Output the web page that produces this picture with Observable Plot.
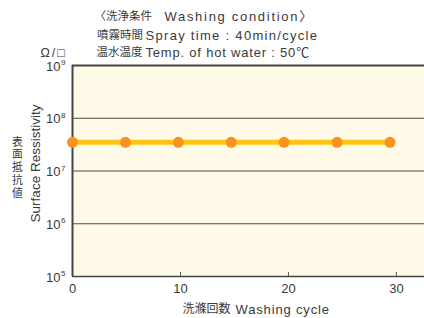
<!DOCTYPE html>
<html>
<head>
<meta charset="utf-8">
<script src="https://cdn.jsdelivr.net/npm/d3@7"></script>
<script src="https://cdn.jsdelivr.net/npm/@observablehq/plot@0.6"></script>
<style>
  html, body { margin: 0; padding: 0; background: #fff; }
  svg { display: block; }
</style>
</head>
<body>
<div id="chart"></div>
<script>
// Data
const cycles = [0, 4.9, 9.8, 14.7, 19.6, 24.5, 29.4];
const resistivity = [3.5e7, 3.5e7, 3.5e7, 3.5e7, 3.5e7, 3.5e7, 3.5e7];
const xTicks = [0, 10, 20, 30];
const yTicks = [1e5, 1e6, 1e7, 1e8, 1e9];
const gridLines = [1e6, 1e7, 1e8];
const titleJa = ["〈洗浄条件", "噴霧時間", "温水温度"];
const titleEn = ["Washing condition〉", "Spray time : 40min/cycle", "Temp. of hot water : 50℃"];
const unitLabel = "Ω/□";
const yLabelEn = "Surface Ressistivity";
const yLabelJa = "表面抵抗値";
const xLabelJa = "洗滌回数";
const xLabelEn = "Washing cycle";

const data = cycles.map((c, i) => ({x: c, y: resistivity[i]}));
const font = "'Liberation Sans', Arial, 'Noto Sans CJK JP', sans-serif";
const jaFont = "'Noto Sans CJK JP', sans-serif";
const textColor = "#3a3a3a";

const titleDy = [-49, -30, -13];
const titleJaDx = [22, 24.5, 24];
const titleEnDx = [92, 73, 73];
const titleSpacing = ["1.7px", "1.3px", "0.8px"];

const titleMarks = [];
for (let i = 0; i < 3; i++) {
  titleMarks.push(Plot.text([titleJa[i]], {frameAnchor: "top-left", dx: titleJaDx[i], dy: titleDy[i], textAnchor: "start", lineAnchor: "middle", fontSize: 11.5, fontFamily: jaFont, fill: textColor}));
  titleMarks.push(Plot.text([titleEn[i]], {frameAnchor: "top-left", dx: titleEnDx[i], dy: titleDy[i], textAnchor: "start", lineAnchor: "middle", fontSize: 13, fill: textColor}));
}

const chart = Plot.plot({
  width: 424,
  height: 318,
  marginLeft: 72,
  marginRight: 0,
  marginTop: 65,
  marginBottom: 42,
  style: {fontFamily: font, background: "#fff", color: textColor},
  x: {domain: [0, 32.6], axis: null},
  y: {type: "log", domain: [1e5, 1e9], axis: null},
  marks: [
    Plot.frame({fill: "#fffbe8", stroke: null}),
    Plot.ruleY(gridLines, {stroke: "#4a4a4a", strokeWidth: 1}),
    Plot.ruleY([1e9], {stroke: "#444", strokeWidth: 2}),
    Plot.ruleY([1e5], {stroke: "#444", strokeWidth: 1.5}),
    Plot.ruleX([0], {stroke: "#444", strokeWidth: 2}),
    Plot.ruleX(xTicks.filter(d => d > 0), {insetTop: 207, stroke: "#555", strokeWidth: 1}),
    Plot.text(xTicks, {x: d => d, frameAnchor: "bottom", dy: 16, text: d => String(d), fontSize: 13, fill: textColor}),
    Plot.text(yTicks, {y: d => d, frameAnchor: "left", dx: -12, dy: 1, textAnchor: "end", text: () => "10", fontSize: 13, fill: textColor}),
    Plot.text(yTicks, {y: d => d, frameAnchor: "left", dx: -11.5, dy: -3, textAnchor: "start", text: d => String(Math.round(Math.log10(d))), fontSize: 8, fill: textColor}),
    Plot.line(data, {x: "x", y: "y", stroke: "#ffc512", strokeWidth: 5}),
    Plot.dot(data, {x: "x", y: "y", r: 5.5, fill: "#f7931e", stroke: null}),
    ...titleMarks,
    Plot.text([unitLabel], {frameAnchor: "top-left", dx: -32, dy: -13, textAnchor: "start", lineAnchor: "middle", fontSize: 12.5, fill: textColor}),
    Plot.text([yLabelEn], {frameAnchor: "left", dx: -37, dy: -7.5, rotate: -90, textAnchor: "middle", fontSize: 13.5, fill: textColor}),
    Plot.text([yLabelJa.split("").join("\n")], {frameAnchor: "left", dx: -55, dy: -4, textAnchor: "middle", fontSize: 10.8, lineHeight: 1.18, fontFamily: jaFont, fill: textColor}),
    Plot.text([xLabelJa], {frameAnchor: "bottom-left", dx: 110, dy: 33, textAnchor: "start", lineAnchor: "middle", fontSize: 12, fontFamily: jaFont, fill: textColor}),
    Plot.text([xLabelEn], {frameAnchor: "bottom-left", dx: 163, dy: 33, textAnchor: "start", lineAnchor: "middle", fontSize: 13, fill: textColor})
  ]
});
// letter spacing of some Latin texts (Plot has no letterSpacing option)
const svg = d3.select(chart);
svg.selectAll("text").each(function () {
  const t = this.textContent;
  const i = titleEn.indexOf(t);
  if (i >= 0) d3.select(this).attr("letter-spacing", titleSpacing[i]);
  if (t === xLabelEn) d3.select(this).attr("letter-spacing", "0.85px");
  if (t === unitLabel) d3.select(this).attr("letter-spacing", "2px");
});
document.getElementById("chart").appendChild(chart);
</script>
</body>
</html>
